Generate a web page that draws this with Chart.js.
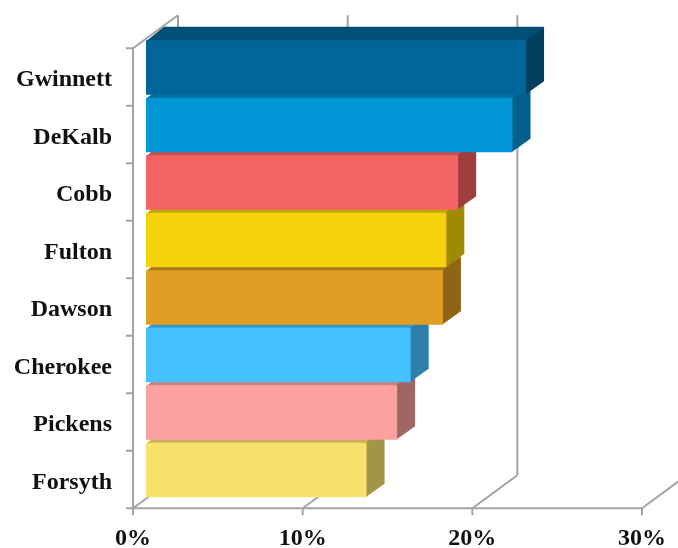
<!DOCTYPE html>
<html>
<head>
<meta charset="utf-8">
<style>
    html, body { margin: 0; padding: 0; background: #fff; }
    canvas { display: block; }
</style>
<script src="https://cdn.jsdelivr.net/npm/chart.js@4"></script>
</head>
<body>
<canvas id="chart" width="678" height="548"></canvas>
<script>
'use strict';

const counties = ['Gwinnett', 'DeKalb', 'Cobb', 'Fulton', 'Dawson', 'Cherokee', 'Pickens', 'Forsyth'];
const shares = [22.4, 21.6, 18.4, 17.7, 17.5, 15.6, 14.8, 13.0];
const frontColors = ['#006699', '#0096d6', '#f46464', '#f5d20b', '#e09f24', '#45c1ff', '#fba1a0', '#f9e16d'];
const topColors = ['#004f76', '#00729f', '#c45050', '#c0a400', '#ab7a1b', '#369ac8', '#c98180', '#c7b355'];
const sideColors = ['#003f60', '#005f8c', '#a03d3d', '#a08a00', '#8f6414', '#2e7fa8', '#9f6666', '#a39548'];
const xTicks = [0, 10, 20, 30];

// глубина столбца и смещение осей относительно плоскости столбцов
const barDepth = { x: 18, y: -13.5 };
const wallDepth = { x: 45, y: -33 };
const axisShift = { x: -13, y: 9.5 };
const axisColor = '#a3a3a3';

function line(ctx, x1, y1, x2, y2) {
    ctx.beginPath();
    ctx.moveTo(x1, y1);
    ctx.lineTo(x2, y2);
    ctx.stroke();
}

function fillPoly(ctx, color, pts) {
    ctx.fillStyle = color;
    ctx.beginPath();
    pts.forEach((p, i) => (i ? ctx.lineTo(p[0], p[1]) : ctx.moveTo(p[0], p[1])));
    ctx.closePath();
    ctx.fill();
}

// стенки, пол и засечки псевдо-3D осей
const axesFrame = {
    id: 'axesFrame',
    beforeDatasetsDraw(chart) {
        const { ctx, chartArea: area, scales } = chart;
        const top = area.top + axisShift.y;
        const bottom = area.bottom + axisShift.y;
        ctx.save();
        ctx.strokeStyle = axisColor;
        ctx.lineWidth = 2;
        for (const v of xTicks) {
            const x = scales.x.getPixelForValue(v) + axisShift.x;
            line(ctx, x, bottom + 7, x, bottom);
            line(ctx, x, bottom, x + wallDepth.x, bottom + wallDepth.y);
            line(ctx, x + wallDepth.x, bottom + wallDepth.y, x + wallDepth.x, top + wallDepth.y);
        }
        const x0 = scales.x.getPixelForValue(0) + axisShift.x;
        const x30 = scales.x.getPixelForValue(30) + axisShift.x;
        line(ctx, x0, top, x0, bottom);
        line(ctx, x0, bottom, x30, bottom);
        line(ctx, x0, top, x0 + wallDepth.x, top + wallDepth.y);
        const band = (area.bottom - area.top) / counties.length;
        for (let i = 0; i <= counties.length; i++) {
            const y = top + band * i;
            line(ctx, x0 - 7, y, x0, y);
        }
        ctx.restore();
    },
};

// верхние и боковые грани столбцов, снизу вверх, чтобы лицевые грани их перекрывали
const barFaces = {
    id: 'barFaces',
    beforeDatasetsDraw(chart) {
        const { ctx } = chart;
        const bars = chart.getDatasetMeta(0).data;
        ctx.save();
        for (let i = bars.length - 1; i >= 0; i--) {
            const b = bars[i];
            const left = chart.scales.x.getPixelForValue(0);
            const t = b.y - b.height / 2;
            const u = b.y + b.height / 2;
            // грани заходят на 1px под лицевую, чтобы на стыке не просвечивала сетка
            fillPoly(ctx, topColors[i], [
                [left, t + 1],
                [left + barDepth.x, t + barDepth.y],
                [b.x + barDepth.x, t + barDepth.y],
                [b.x, t + 1],
            ]);
            fillPoly(ctx, sideColors[i], [
                [b.x - 1, t],
                [b.x + barDepth.x, t + barDepth.y],
                [b.x + barDepth.x, u + barDepth.y],
                [b.x - 1, u],
            ]);
        }
        ctx.restore();
    },
};

const ctx = document.getElementById('chart').getContext('2d');
const labelFont = { family: '"Liberation Serif"', size: 24, weight: 'bold' };

new Chart(ctx, {
    type: 'bar',
    data: {
        labels: counties,
        datasets: [
            {
                data: shares,
                backgroundColor: frontColors,
                borderWidth: 0,
                barPercentage: 1,
                categoryPercentage: 0.945,
            },
        ],
    },
    options: {
        indexAxis: 'y',
        responsive: false,
        animation: false,
        layout: { padding: { top: 38.75, right: 23, left: 0, bottom: 0 } },
        plugins: { legend: { display: false }, tooltip: { enabled: false } },
        scales: {
            x: {
                min: 0,
                max: 30,
                afterFit: (s) => {
                    // подписи не должны сдвигать область графика
                    s.height = 49.25;
                    s.paddingLeft = 0;
                    s.paddingRight = 0;
                },
                afterBuildTicks: (s) => { s.ticks = xTicks.map((value) => ({ value })); },
                grid: { display: false, drawTicks: false },
                border: { display: false },
                ticks: {
                    callback: (v) => v + '%',
                    font: labelFont,
                    color: '#111',
                    padding: 26,
                    labelOffset: -13,
                    maxRotation: 0,
                    autoSkip: false,
                },
            },
            y: {
                afterFit: (s) => {
                    s.width = 146;
                    s.paddingTop = 0;
                    s.paddingBottom = 0;
                },
                grid: { display: false, drawTicks: false },
                border: { display: false },
                ticks: {
                    font: labelFont,
                    color: '#111',
                    padding: 34,
                    labelOffset: 12.5,
                    autoSkip: false,
                },
            },
        },
    },
    plugins: [axesFrame, barFaces],
});
</script>
</body>
</html>
